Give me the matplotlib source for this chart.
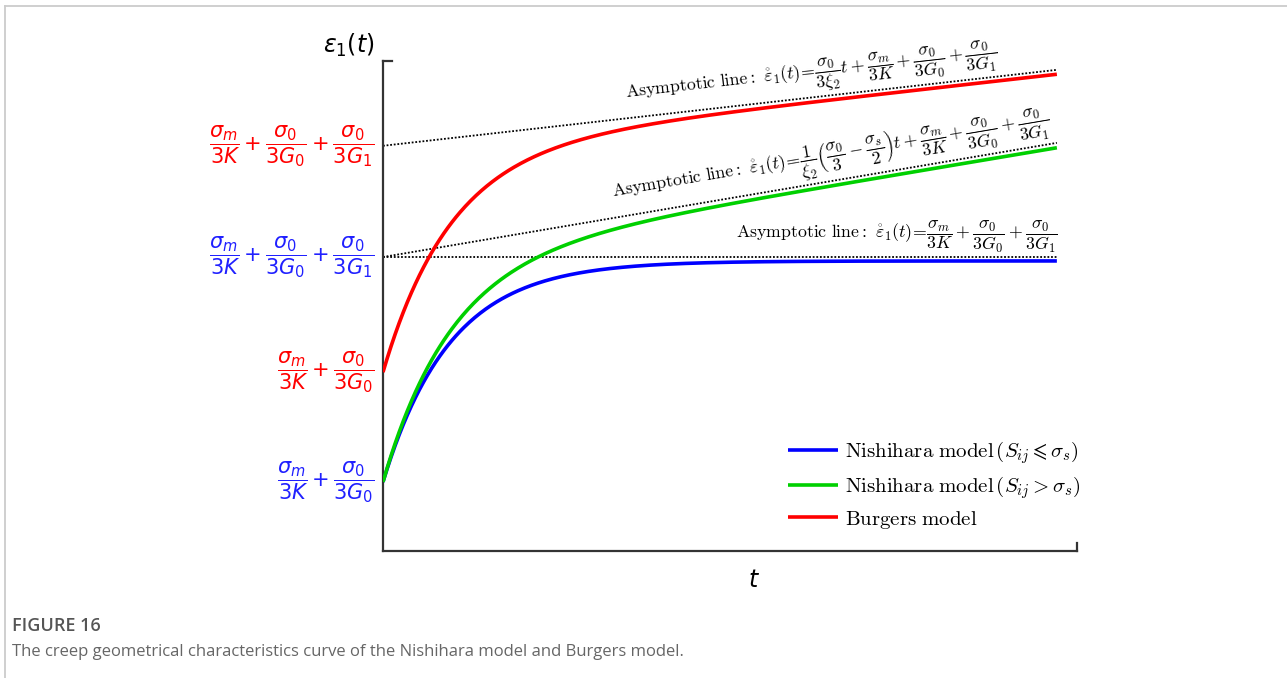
import numpy as np
import matplotlib
matplotlib.use("Agg")
import matplotlib.pyplot as plt
from matplotlib.lines import Line2D
from matplotlib.transforms import blended_transform_factory

# Creep curves: eps(t) = eps_inst + eps_delay * (1 - exp(-rate * t)) + visc * t
colors = ["#0000ff", "#00d000", "#ff0000"]
eps_inst = [1.41, 1.41, 3.65]
eps_delay = [4.51, 4.51, 4.53]
retard_rate = [1.0, 1.0, 1.0]
visc_rate = [0.0, 0.231, 0.155]
t_end = 10.0

model_labels = [r"$\mathrm{Nishihara\ model}\,(S_{ij}\leqslant\sigma_s)$",
                r"$\mathrm{Nishihara\ model}\,(S_{ij}>\sigma_s)$",
                r"$\mathrm{Burgers\ model}$"]

# Asymptotic lines: intercept + slope * t
asym_intercept = [6.0, 6.0, 8.27]
asym_slope = [0.0, 0.233, 0.155]
asym_labels = [
    r"$\mathrm{Asymptotic\ line{:}}\ \mathring{\varepsilon}_1(t)\!=\!\dfrac{\sigma_m}{3K}+\dfrac{\sigma_0}{3G_0}+\dfrac{\sigma_0}{3G_1}$",
    r"$\mathrm{Asymptotic\ line{:}}\ \mathring{\varepsilon}_1(t)\!=\!\dfrac{1}{\xi_2}\left(\dfrac{\sigma_0}{3}-\dfrac{\sigma_s}{2}\right)t+\dfrac{\sigma_m}{3K}+\dfrac{\sigma_0}{3G_0}+\dfrac{\sigma_0}{3G_1}$",
    r"$\mathrm{Asymptotic\ line{:}}\ \mathring{\varepsilon}_1(t)\!=\!\dfrac{\sigma_0}{3\xi_2}t+\dfrac{\sigma_m}{3K}+\dfrac{\sigma_0}{3G_0}+\dfrac{\sigma_0}{3G_1}$",
]
asym_label_x = [7.62, 6.7, 6.4]

# Strain levels marked on the vertical axis
level_values = [asym_intercept[2], asym_intercept[0], eps_inst[2], eps_inst[0]]
level_colors = ["#ff0000", "#2020ff", "#ff0000", "#2020ff"]
level_labels = [
    r"$\dfrac{\sigma_m}{3K}+\dfrac{\sigma_0}{3G_0}+\dfrac{\sigma_0}{3G_1}$",
    r"$\dfrac{\sigma_m}{3K}+\dfrac{\sigma_0}{3G_0}+\dfrac{\sigma_0}{3G_1}$",
    r"$\dfrac{\sigma_m}{3K}+\dfrac{\sigma_0}{3G_0}$",
    r"$\dfrac{\sigma_m}{3K}+\dfrac{\sigma_0}{3G_0}$",
]

plt.rcParams["mathtext.fontset"] = "cm"

fig = plt.figure(figsize=(12.87, 6.78), dpi=100)
ax = fig.add_axes([0.2976, 0.1873, 0.5393, 0.7227])
ax.set_xlim(0, 10.3)
ax.set_ylim(0, 10)

t = np.linspace(0, t_end, 500)
handles = []
for i in range(3):
    eps = eps_inst[i] + eps_delay[i] * (1 - np.exp(-retard_rate[i] * t)) + visc_rate[i] * t
    h, = ax.plot(t, eps, color=colors[i], lw=2.6, solid_capstyle="butt", zorder=3)
    handles.append(h)

# Dotted asymptotes and their labels
for i in range(3):
    line_t = np.array([0, t_end])
    ax.plot(line_t, asym_intercept[i] + asym_slope[i] * line_t, color="black",
            lw=1.3, linestyle=(0, (1, 1)), zorder=2)

fig.canvas.draw()
for i in range(3):
    x0 = asym_label_x[i]
    y0 = asym_intercept[i] + asym_slope[i] * x0
    p1 = ax.transData.transform((0, asym_intercept[i]))
    p2 = ax.transData.transform((t_end, asym_intercept[i] + asym_slope[i] * t_end))
    ang = np.degrees(np.arctan2(p2[1] - p1[1], p2[0] - p1[0]))
    ax.annotate(asym_labels[i], xy=(x0, y0), xytext=(0, 1.5), textcoords="offset points",
                ha="center", va="bottom", rotation=ang, rotation_mode="anchor",
                fontsize=12.8, math_fontfamily="cm")

# Level labels left of the axis
trans = blended_transform_factory(ax.transAxes, ax.transData)
for val, lab, col in zip(level_values, level_labels, level_colors):
    ax.annotate(lab, xy=(0, val), xycoords=trans, xytext=(-6, 0), textcoords="offset points",
                ha="right", va="center", color=col, fontsize=15,
                math_fontfamily="dejavusans")

# Axes styling
for side in ["top", "right"]:
    ax.spines[side].set_visible(False)
for side in ["left", "bottom"]:
    ax.spines[side].set_color("#333333")
    ax.spines[side].set_linewidth(1.6)
ax.set_xticks([])
ax.set_yticks([])
ax.plot([0, 0.013], [1, 1], transform=ax.transAxes, color="#333333", lw=1.6,
        clip_on=False, solid_capstyle="projecting")
ax.plot([1, 1], [0, 0.016], transform=ax.transAxes, color="#333333", lw=1.6,
        clip_on=False, solid_capstyle="projecting")

ax.text(-0.012, 1.005, r"$\varepsilon_1(t)$", transform=ax.transAxes, ha="right",
        va="bottom", fontsize=17, math_fontfamily="dejavusans")
ax.text(0.535, -0.035, r"$t$", transform=ax.transAxes, ha="center", va="top",
        fontsize=17, math_fontfamily="dejavusans")

leg = ax.legend(handles, model_labels, loc="lower right", bbox_to_anchor=(1.032, 0.003),
                frameon=False, fontsize=15, handlelength=2.4, handletextpad=0.35,
                labelspacing=0.38)
for txt in leg.get_texts():
    txt.set_math_fontfamily("cm")

# Caption and frame
fig.text(12 / 1287, 1 - 626 / 678, "FIGURE 16", fontsize=13, color="#555555",
         family="Open Sans", fontweight="semibold", va="center", ha="left")
fig.text(12 / 1287, 1 - 652 / 678,
         "The creep geometrical characteristics curve of the Nishihara model and Burgers model.",
         fontsize=12, color="#666666", family="Open Sans", va="center", ha="left")
fx = 4.5 / 1287
fy = 1 - 5.5 / 678
fig.add_artist(Line2D([fx, fx], [0, fy], transform=fig.transFigure, color="#cccccc", lw=1.3))
fig.add_artist(Line2D([fx, 1], [fy, fy], transform=fig.transFigure, color="#cccccc", lw=1.3))

fig.savefig("out.png", dpi=100, facecolor="white")
